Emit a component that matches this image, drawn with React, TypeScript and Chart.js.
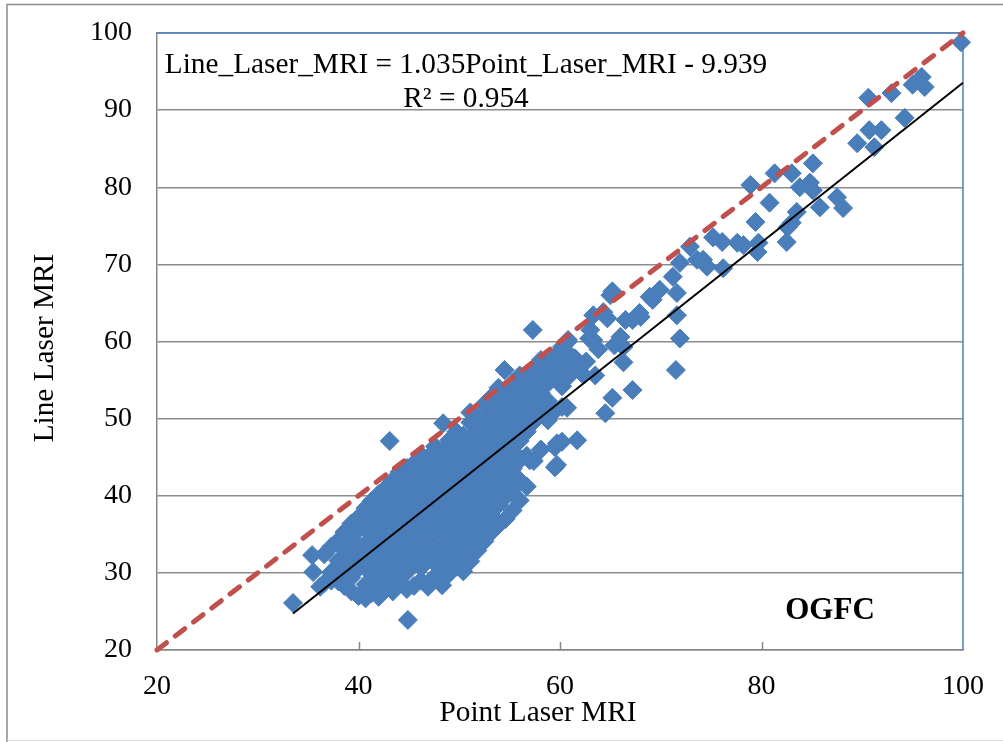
import React, { useEffect, useRef } from "react";
import { Chart, registerables } from "chart.js";

Chart.register(...registerables);

// Point Laser MRI (x) and Line Laser MRI (y) pairs
const pointLaserMRI: number[] = [
  // sparse lower-left and outliers
  33.5, 35.4, 35.5, 36.2, 44.9, 43.1, 48.4, 54.5, 57.3,
  // dense cloud
  36.6, 36.6,
  37.3, 37.3, 37.3,
  38.0, 38.0, 38.0,
  38.6, 38.6, 38.6, 38.6,
  39.3, 39.3, 39.3, 39.3, 39.3,
  40.0, 40.0, 40.0, 40.0, 40.0,
  40.7, 40.7, 40.7, 40.7, 40.7, 40.7,
  41.3, 41.3, 41.3, 41.3, 41.3, 41.3,
  42.0, 42.0, 42.0, 42.0, 42.0, 42.0, 42.0,
  42.7, 42.7, 42.7, 42.7, 42.7, 42.7, 42.7,
  43.4, 43.4, 43.4, 43.4, 43.4, 43.4, 43.4, 43.4,
  44.1, 44.1, 44.1, 44.1, 44.1, 44.1, 44.1, 44.1,
  44.8, 44.8, 44.8, 44.8, 44.8, 44.8, 44.8, 44.8,
  45.5, 45.5, 45.5, 45.5, 45.5, 45.5, 45.5, 45.5,
  46.2, 46.2, 46.2, 46.2, 46.2, 46.2, 46.2, 46.2, 46.2,
  46.9, 46.9, 46.9, 46.9, 46.9, 46.9, 46.9, 46.9,
  47.6, 47.6, 47.6, 47.6, 47.6, 47.6, 47.6, 47.6, 47.6,
  48.3, 48.3, 48.3, 48.3, 48.3, 48.3, 48.3, 48.3, 48.3,
  49.0, 49.0, 49.0, 49.0, 49.0, 49.0, 49.0, 49.0, 49.0,
  49.7, 49.7, 49.7, 49.7, 49.7, 49.7, 49.7, 49.7, 49.7,
  50.4, 50.4, 50.4, 50.4, 50.4, 50.4, 50.4, 50.4, 50.4,
  51.1, 51.1, 51.1, 51.1, 51.1, 51.1, 51.1, 51.1, 51.1, 51.1,
  51.8, 51.8, 51.8, 51.8, 51.8, 51.8, 51.8, 51.8, 51.8,
  52.5, 52.5, 52.5, 52.5, 52.5, 52.5, 52.5, 52.5, 52.5,
  53.2, 53.2, 53.2, 53.2, 53.2, 53.2, 53.2, 53.2, 53.2,
  53.9, 53.9, 53.9, 53.9, 53.9, 53.9, 53.9, 53.9, 53.9,
  54.6, 54.6, 54.6, 54.6, 54.6, 54.6, 54.6, 54.6,
  55.3, 55.3, 55.3, 55.3, 55.3, 55.3, 55.3, 55.3,
  56.0, 56.0, 56.0, 56.0, 56.0, 56.0, 56.0, 56.0,
  56.7, 56.7, 56.7, 56.7, 56.7, 56.7,
  57.4, 57.4, 57.4, 57.4, 57.4,
  58.1, 58.1, 58.1, 58.1, 58.1,
  58.8, 58.8, 58.8, 58.8,
  59.5, 59.5, 59.5, 59.5, 59.5,
  60.2, 60.2, 60.2, 60.2, 60.2,
  60.8, 60.8, 60.8,
  // 57-72 scattered
  57.0, 59.7, 59.7, 61.7, 60.7, 60.7, 61.5, 61.8, 62.3, 62.6, 62.9, 63.0,
  63.3, 63.3, 63.5, 63.8, 64.3, 64.5, 64.7, 65.0, 65.2, 65.2, 65.4, 66.0,
  66.3, 66.3, 66.5, 67.2, 67.2, 67.9, 68.0, 68.9, 69.2, 69.9, 71.2, 71.6,
  71.6, 71.9, 71.5, 71.9,
  // 72-100
  72.9, 73.6, 74.6, 76.2, 74.2, 75.2, 76.1, 77.6, 78.2, 79.7, 79.6, 79.4,
  80.8, 78.9, 81.3, 83.0, 83.8, 84.8, 85.1, 85.1, 85.8, 87.5, 88.1, 83.5,
  83.0, 82.6, 82.5, 89.5, 91.2, 90.7, 91.9, 94.2, 90.6, 92.9, 95.0, 95.9,
  96.2, 99.8,
];

const lineLaserMRI: number[] = [
  26.1, 32.3, 30.1, 28.2, 23.9, 47.1, 49.4, 56.3, 61.5,
  28.7, 32.4,
  30.1, 33.4, 29.0,
  28.9, 31.6, 34.2,
  30.5, 33.0, 35.3, 28.3,
  29.4, 31.8, 34.5, 36.4, 27.6,
  27.0, 30.6, 32.9, 35.6, 37.2,
  28.5, 31.3, 33.8, 36.2, 38.4, 26.7,
  27.4, 29.8, 32.2, 34.9, 37.1, 39.3,
  26.9, 28.9, 31.0, 33.4, 35.7, 38.3, 40.2,
  28.0, 30.2, 32.6, 34.5, 36.8, 39.1, 41.0,
  27.6, 29.5, 31.7, 33.9, 36.2, 38.0, 40.4, 42.0,
  28.8, 30.9, 33.0, 35.1, 37.5, 39.6, 41.7, 43.1,
  27.9, 30.1, 32.3, 34.6, 36.7, 38.8, 41.0, 43.6,
  28.3, 31.4, 33.6, 35.8, 37.9, 40.2, 42.4, 44.2,
  29.0, 30.7, 32.9, 35.2, 37.3, 39.5, 41.6, 43.8, 45.3,
  28.2, 31.8, 34.0, 36.3, 38.6, 40.8, 42.9, 45.0,
  29.6, 31.2, 33.3, 35.6, 37.8, 39.9, 42.2, 44.4, 46.4,
  28.4, 30.5, 32.8, 34.9, 37.0, 39.2, 41.5, 43.7, 45.8,
  29.9, 31.9, 34.2, 36.4, 38.5, 40.7, 42.9, 45.1, 47.2,
  30.8, 33.1, 35.5, 37.7, 39.8, 41.9, 44.2, 46.5, 48.3,
  30.2, 32.4, 34.6, 36.9, 39.0, 41.3, 43.4, 45.7, 47.8,
  31.5, 33.7, 35.9, 38.2, 40.4, 42.6, 44.8, 47.0, 49.5, 50.8,
  32.9, 35.0, 37.3, 39.5, 41.8, 43.9, 46.1, 48.4, 50.2,
  34.1, 36.4, 38.6, 40.8, 43.0, 45.3, 47.5, 49.6, 51.9,
  35.3, 37.5, 39.7, 42.0, 44.2, 46.4, 48.7, 50.9, 52.8,
  36.2, 38.8, 41.1, 43.3, 45.6, 47.8, 50.0, 52.2, 54.0,
  37.0, 39.9, 42.4, 44.6, 46.9, 49.1, 51.3, 53.5,
  38.1, 40.9, 43.5, 45.8, 48.0, 50.4, 52.6, 54.7,
  39.4, 42.0, 44.6, 47.1, 49.5, 51.8, 53.9, 55.6,
  41.2, 45.2, 48.3, 50.8, 53.0, 55.2,
  44.5, 49.6, 52.0, 54.3, 56.5,
  46.0, 50.9, 53.3, 55.4, 57.6,
  49.8, 52.3, 54.6, 56.9,
  43.7, 46.3, 51.0, 55.8, 58.1,
  47.0, 51.5, 54.2, 57.0, 59.3,
  55.4, 58.5, 60.2,
  44.6, 46.8, 44.0, 47.2, 51.4, 59.9, 57.8, 56.6, 55.7, 57.4, 60.4, 61.5,
  60.2, 63.4, 55.6, 59.0, 63.8, 50.7, 63.0, 66.0, 66.5, 52.7, 59.5, 60.6,
  59.3, 57.3, 62.8, 53.7, 62.8, 63.7, 63.2, 65.8, 65.4, 66.7, 68.4, 66.3,
  63.4, 60.4, 56.3, 70.2,
  72.3, 70.6, 69.7, 69.5, 70.6, 73.5, 72.9, 72.8, 72.5, 72.8, 71.6, 75.5,
  78.0, 80.3, 81.8, 81.8, 80.0, 80.6, 79.6, 83.1, 77.4, 78.7, 77.3, 76.8,
  75.4, 74.8, 72.9, 85.7, 85.2, 87.4, 87.4, 89.0, 91.6, 92.2, 93.3, 94.3,
  93.0, 98.8,
];

const equalityX: number[] = [20, 100];
const equalityY: number[] = [20, 100];
const trendSlope = 1.035;
const trendIntercept = -9.939;
const trendX: number[] = [33.5, 100];

const xTicks: number[] = [20, 40, 60, 80, 100];
const yTicks: number[] = [20, 30, 40, 50, 60, 70, 80, 90, 100];

const equationLine1 = "Line_Laser_MRI = 1.035Point_Laser_MRI - 9.939";
const equationLine2 = "R\u00B2 = 0.954";
const xTitle = "Point Laser MRI";
const yTitle = "Line Laser MRI";
const tagText = "OGFC";

const SERIF = "'Liberation Serif', 'Times New Roman', serif";

export default function App() {
  const canvasRef = useRef<HTMLCanvasElement | null>(null);

  useEffect(() => {
    const canvas = canvasRef.current;
    if (!canvas) return;

    const scatterData = pointLaserMRI.map((x, i) => ({ x, y: lineLaserMRI[i] }));
    const eqData = equalityX.map((x, i) => ({ x, y: equalityY[i] }));
    const trendData = trendX.map((x) => ({ x, y: trendSlope * x + trendIntercept }));

    const decor = {
      id: "decor",
      beforeDraw(chart: any) {
        const ctx = chart.ctx;
        ctx.save();
        ctx.fillStyle = "#ffffff";
        ctx.fillRect(0, 0, chart.width, chart.height);
        ctx.lineWidth = 1.5;
        ctx.strokeStyle = "#8a8a8a";
        ctx.beginPath();
        ctx.moveTo(7, 742);
        ctx.lineTo(7, 4.5);
        ctx.lineTo(1003, 4.5);
        ctx.stroke();
        ctx.strokeStyle = "#dadada";
        ctx.lineWidth = 1;
        ctx.beginPath();
        ctx.moveTo(7, 740.5);
        ctx.lineTo(1003, 740.5);
        ctx.stroke();
        ctx.restore();
      },
      beforeDatasetsDraw(chart: any) {
        const ctx = chart.ctx;
        const a = chart.chartArea;
        const xs = chart.scales.x;
        ctx.save();
        ctx.strokeStyle = "#4F81BD";
        ctx.lineWidth = 1.5;
        ctx.beginPath();
        ctx.moveTo(a.left, a.top);
        ctx.lineTo(a.right, a.top);
        ctx.lineTo(a.right, a.bottom);
        ctx.stroke();
        ctx.strokeStyle = "#868686";
        ctx.lineWidth = 1.5;
        xTicks.slice(1, -1).forEach((v) => {
          const px = Math.round(xs.getPixelForValue(v)) + 0.5;
          ctx.beginPath();
          ctx.moveTo(px, a.bottom);
          ctx.lineTo(px, a.bottom - 8);
          ctx.stroke();
        });
        ctx.restore();
      },
      afterDraw(chart: any) {
        const ctx = chart.ctx;
        ctx.save();
        ctx.fillStyle = "#000000";
        ctx.textBaseline = "alphabetic";
        ctx.font = `29.3px ${SERIF}`;
        ctx.textAlign = "center";
        ctx.fillText(equationLine1, 466, 73);
        ctx.fillText(equationLine2, 466, 107);
        ctx.fillText(xTitle, 538, 721);
        ctx.save();
        ctx.translate(53, 348);
        ctx.rotate(-Math.PI / 2);
        ctx.fillText(yTitle, 0, 0);
        ctx.restore();
        ctx.font = `bold 31px ${SERIF}`;
        ctx.fillText(tagText, 830, 619);
        ctx.restore();
      },
    };

    const chart = new Chart(canvas, {
      type: "scatter",
      data: {
        datasets: [
          {
            label: "Equality",
            data: eqData,
            showLine: true,
            borderColor: "#C0504D",
            borderWidth: 5,
            borderDash: [12, 11],
            borderCapStyle: "round",
            pointRadius: 0,
            order: 1,
            clip: false,
          } as any,
          {
            label: "Trend",
            data: trendData,
            showLine: true,
            borderColor: "#000000",
            borderWidth: 2,
            pointRadius: 0,
            order: 2,
            clip: false,
          } as any,
          {
            label: "OGFC",
            data: scatterData,
            pointStyle: "rectRot",
            pointRadius: 9.5,
            backgroundColor: "#4A7EBB",
            borderColor: "#4A7EBB",
            borderWidth: 1,
            order: 3,
            clip: false,
          } as any,
        ],
      },
      options: {
        responsive: false,
        animation: false,
        devicePixelRatio: 1,
        layout: { padding: { left: 7, top: 33, right: 40, bottom: 0 } },
        plugins: {
          legend: { display: false },
          tooltip: { enabled: false },
          title: { display: false },
        },
        scales: {
          x: {
            type: "linear",
            min: 20,
            max: 100,
            afterBuildTicks: (scale: any) => {
              scale.ticks = xTicks.map((v) => ({ value: v }));
            },
            afterFit: (scale: any) => {
              scale.height = 92;
              scale.paddingLeft = 0;
              scale.paddingRight = 0;
            },
            ticks: {
              color: "#000000",
              font: { family: SERIF, size: 28 },
              padding: 20,
              maxRotation: 0,
            },
            grid: { display: false, drawTicks: false },
            border: { display: true, color: "#868686", width: 1.5 },
          },
          y: {
            type: "linear",
            min: 20,
            max: 100,
            afterBuildTicks: (scale: any) => {
              scale.ticks = yTicks.map((v) => ({ value: v }));
            },
            afterFit: (scale: any) => {
              scale.width = 150;
              scale.paddingTop = 0;
              scale.paddingBottom = 0;
            },
            ticks: {
              color: "#000000",
              font: { family: SERIF, size: 28 },
              padding: 25,
            },
            grid: { color: "#8c8c8c", lineWidth: 1.5, drawTicks: false },
            border: { display: true, color: "#868686", width: 1.5 },
          },
        },
      } as any,
      plugins: [decor],
    });

    return () => chart.destroy();
  }, []);

  return (
    <div style={{ position: "fixed", left: 0, top: 0, width: 1003, height: 742, background: "#fff" }}>
      <canvas ref={canvasRef} width={1003} height={742} style={{ display: "block" }} />
    </div>
  );
}
